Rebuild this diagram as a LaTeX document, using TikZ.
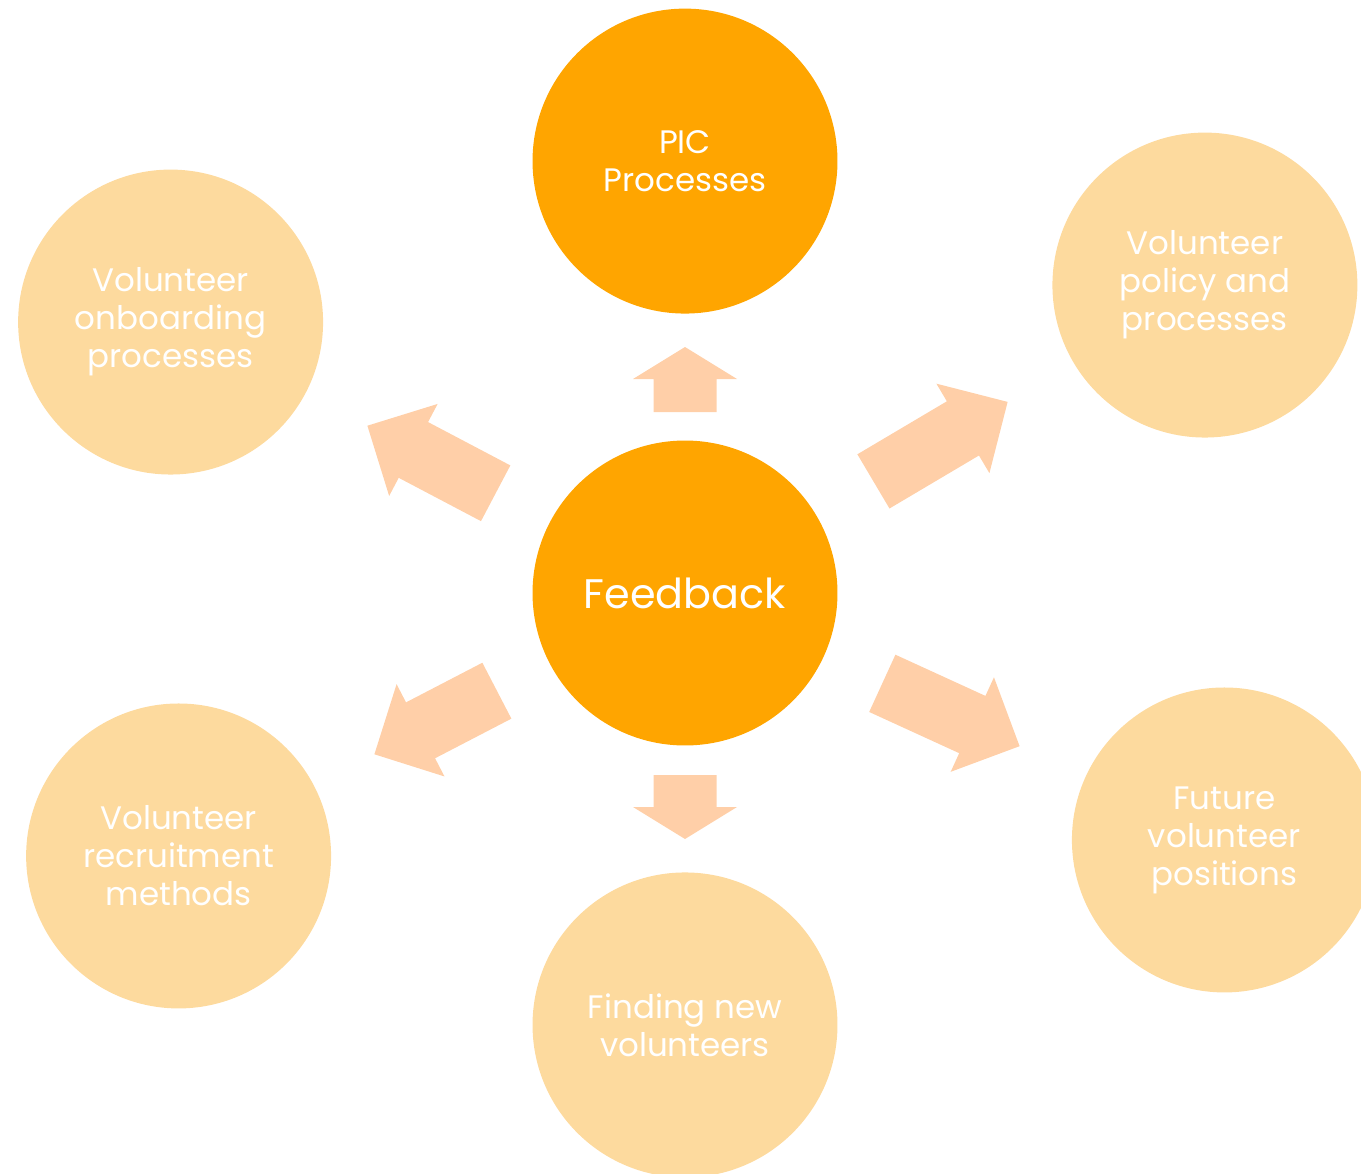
\documentclass[tikz,border=0pt]{standalone}
\usepackage{fontspec}
\setmainfont{Poppins}
\usetikzlibrary {positioning}
\definecolor{darkorange}{RGB}{255,165,0}
\definecolor{lightorange}{RGB}{253,218,158}
\definecolor{peach}{RGB}{255,207,168}

% block arrow pointing from node #1 towards node #2, tail at #3, tip at #4, head length #5
\newcommand{\blockarrow}[5]{%
  \pgfmathanglebetweenpoints{\pgfpointanchor{#1}{center}}{\pgfpointanchor{#2}{center}}%
  \let\arrowangle\pgfmathresult
  \fill[peach, shift={(#1)}, rotate=\arrowangle] (#3,-31.5) -- ({#4-#5},-31.5) -- ({#4-#5},-52) -- (#4,0)
    -- ({#4-#5},52) -- ({#4-#5},31.5) -- (#3,31.5) -- cycle;
}

\begin{document}
\begin{tikzpicture}[x=0.02cm, y=0.02cm, on grid,
    circ/.style={circle, minimum size=6.1cm, inner sep=0pt, text=white, align=center,
      font=\fontsize{18.5}{21.6}\selectfont},
    hub/.style={circ, fill=darkorange},
    spoke/.style={circ, fill=lightorange}]
    \useasboundingbox (0,0) rectangle (1361,-1173);
    \clip (0,0) rectangle (1361,-1173);
			 \node [hub, font=\fontsize{23.5}{26}\selectfont] (FB) at (685,-593) {Feedback};
			 \node [hub] (PIC) [above =8.64cm of FB] {PIC\\Processes};
			 \node [spoke] (POL) [above right =6.16cm and 10.4cm of FB] {Volunteer\\policy and\\processes};
			 \node [spoke] (ONB) [above left =5.42cm and 10.29cm of FB] {Volunteer\\onboarding\\processes};
			 \node [spoke] (REC) [below left =5.26cm and 10.13cm of FB] {Volunteer\\recruitment\\methods};
			 \node [spoke] (NEW) [below =8.64cm of FB] {Finding new\\volunteers};
			 \node [spoke] (FUT) [below right =4.94cm and 10.79cm of FB] {Future\\volunteer\\positions};
			 \blockarrow{FB}{PIC}{181}{246}{32}
			 \blockarrow{FB}{POL}{219}{375}{52}
			 \blockarrow{FB}{ONB}{214}{359}{52}
			 \blockarrow{FB}{REC}{212}{350}{52}
			 \blockarrow{FB}{NEW}{182}{246}{32}
			 \blockarrow{FB}{FUT}{217}{368}{52}
		\end{tikzpicture}
\end{document}
